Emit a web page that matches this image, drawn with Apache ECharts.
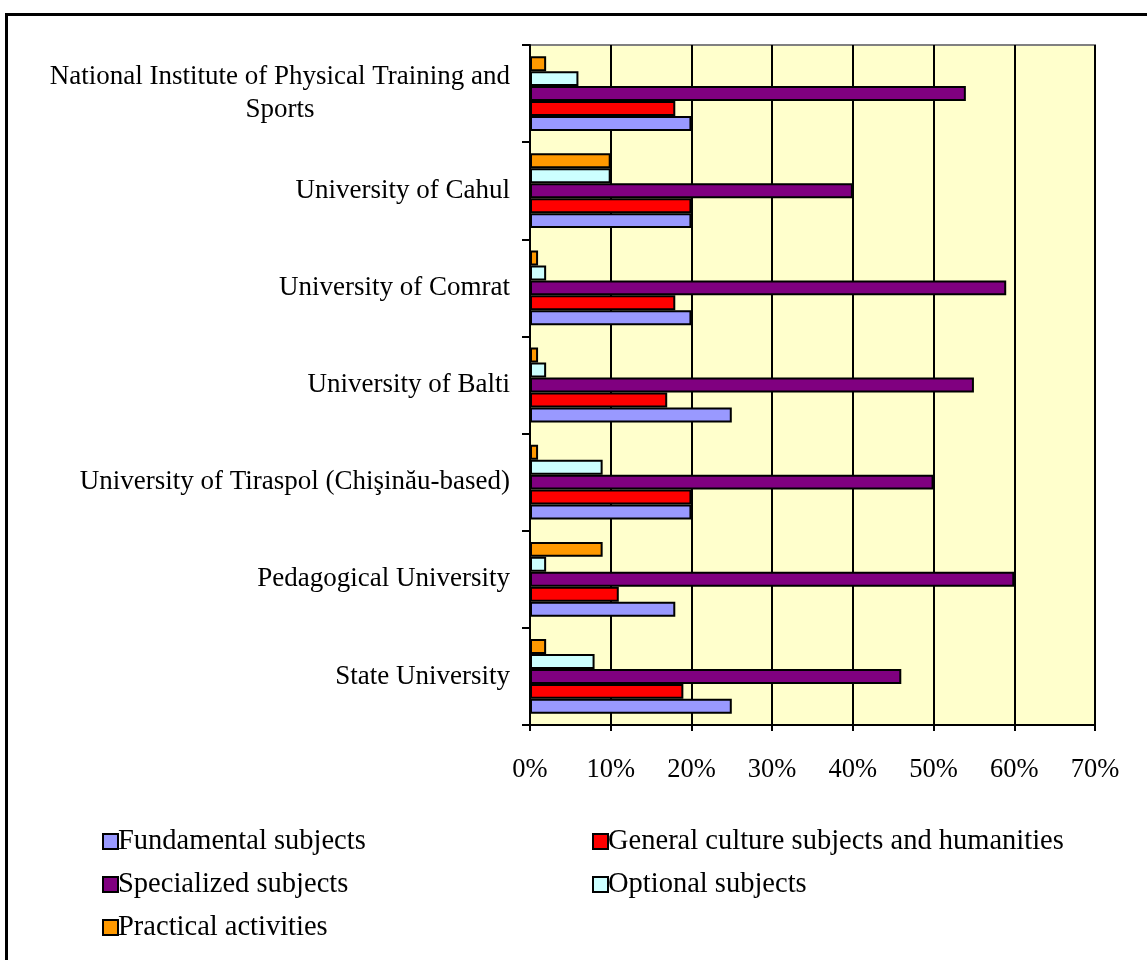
<!DOCTYPE html>
<html>
<head>
<meta charset="utf-8">
<script src="https://cdn.jsdelivr.net/npm/echarts@6/dist/echarts.min.js"></script>
<style>
html,body{margin:0;padding:0;background:#fff;}
#chart{width:1147px;height:960px;}
</style>
</head>
<body>
<div id="chart"></div>
<script>
const categories = [
  "State University",
  "Pedagogical University",
  "University of Tiraspol (Chişinău-based)",
  "University of Balti",
  "University of Comrat",
  "University of Cahul",
  "National Institute of Physical Training and\nSports"
];
const seriesNames = [
  "Fundamental subjects",
  "General culture subjects and humanities",
  "Specialized subjects",
  "Optional subjects",
  "Practical activities"
];
const fundamental = [25, 18, 20, 25, 20, 20, 20];
const generalCulture = [19, 11, 20, 17, 18, 20, 18];
const specialized = [46, 60, 50, 55, 59, 40, 54];
const optional = [8, 2, 9, 2, 2, 10, 6];
const practical = [2, 9, 1, 1, 1, 10, 2];
const xTicks = [0, 10, 20, 30, 40, 50, 60, 70];

const colors = ["#9999FF", "#FF0000", "#800080", "#CCFFFF", "#FF9900"];
const values = [fundamental, generalCulture, specialized, optional, practical];
const font = "Liberation Serif";

const chart = echarts.init(document.getElementById('chart'));
// Series added in reverse so the first series sits at the bottom of each group
const series = seriesNames.map((n, i) => ({
  name: n,
  type: 'bar',
  data: values[i],
  barGap: '0%',
  barCategoryGap: '23%',
  itemStyle: { color: colors[i], borderColor: '#000', borderWidth: 2 },
  animation: false
})).reverse();

const legendCommon = {
  orient: 'vertical', top: 822, itemGap: 14,
  icon: 'rect', itemWidth: 15, itemHeight: 15,
  itemStyle: { borderColor: '#000', borderWidth: 2 },
  textStyle: { fontFamily: font, fontSize: 28.5, lineHeight: 29, color: '#000', padding: [0, 0, 0, -5] }
};

chart.setOption({
  animation: false,
  textStyle: { fontFamily: font },
  graphic: [{
    type: 'rect',
    shape: { x: 6.5, y: 14.5, width: 1160, height: 1000 },
    style: { fill: 'none', stroke: '#000', lineWidth: 3 },
    silent: true
  }],
  grid: {
    left: 530, top: 45, right: 52, bottom: 235,
    show: true, backgroundColor: '#FFFFCC', borderColor: '#808080', borderWidth: 2
  },
  legend: [
    Object.assign({}, legendCommon, { left: 97, data: [seriesNames[0], seriesNames[2], seriesNames[4]] }),
    Object.assign({}, legendCommon, { left: 587, data: [seriesNames[1], seriesNames[3]] })
  ],
  xAxis: {
    type: 'value', min: 0, max: 70, interval: 10,
    axisLine: { show: true, lineStyle: { color: '#000', width: 2 } },
    axisTick: { show: true, length: 6, lineStyle: { color: '#000', width: 2 } },
    splitLine: { show: true, lineStyle: { color: '#000', width: 2 } },
    axisLabel: { formatter: '{value}%', fontFamily: font, fontSize: 26.5, color: '#000', margin: 32 }
  },
  yAxis: {
    type: 'category', data: categories,
    axisLine: { show: true, lineStyle: { color: '#000', width: 2 } },
    axisTick: { show: true, length: 8, lineStyle: { color: '#000', width: 2 } },
    axisLabel: {
      fontFamily: font, fontSize: 27, color: '#000', margin: 20, lineHeight: 33,
      formatter: v => v.split('\n').map(s => '{c|' + s + '}').join('\n'),
      rich: { c: { align: 'center', fontFamily: font, fontSize: 27, color: '#000', lineHeight: 33 } }
    }
  },
  series: series
});
</script>
</body>
</html>
